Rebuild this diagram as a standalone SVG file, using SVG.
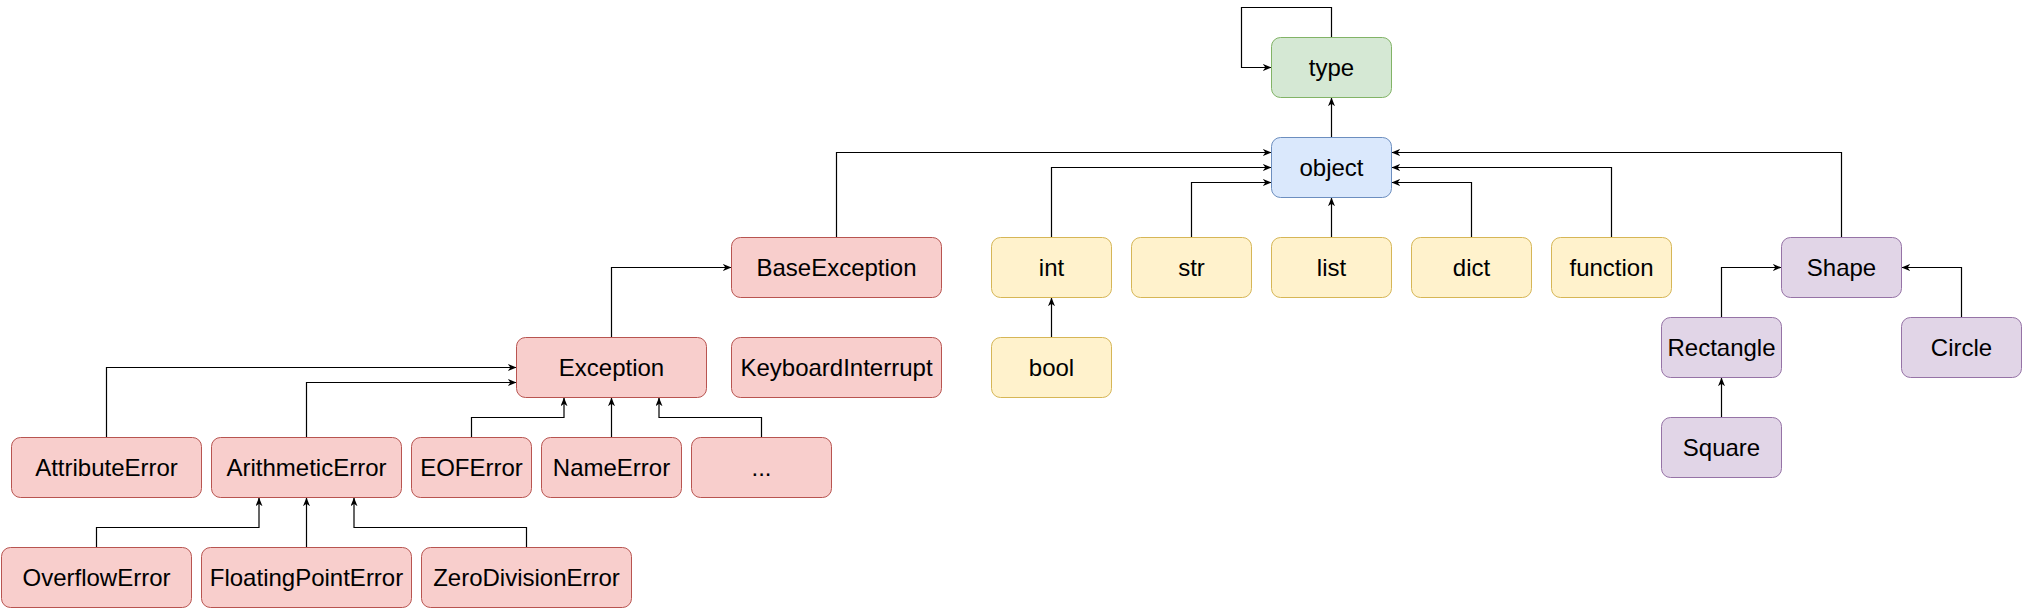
<svg xmlns="http://www.w3.org/2000/svg" width="2022" height="608" viewBox="0 0 2022 608">
<style>
.n rect{stroke-width:1}
.n text{font-family:"Liberation Sans",Arial,Helvetica,sans-serif;font-size:24px;fill:#000;text-anchor:middle}
.g rect{fill:#d5e8d4;stroke:#82b366}
.b rect{fill:#dae8fc;stroke:#6c8ebf}
.r rect{fill:#f8cecc;stroke:#b85450}
.y rect{fill:#fff2cc;stroke:#d6b656}
.p rect{fill:#e1d5e7;stroke:#9673a6}
#edges path{fill:none;stroke:#000;stroke-width:1.2;marker-end:url(#ar)}
</style>
<defs>
<marker id="ar" viewBox="0 0 10 8" refX="10" refY="4" markerWidth="9" markerHeight="7" markerUnits="userSpaceOnUse" orient="auto">
<path d="M0,0 L10,4 L0,8 L3,4 Z" fill="#000"/>
</marker>
</defs>
<rect width="2022" height="608" fill="#fff"/>
<g transform="translate(0.5,0.5)">
<g id="edges">
<path d="M1331,37 V7 H1241 V67 H1271"/>
<path d="M1331,137 V97"/>
<path d="M836,237 V152 H1271"/>
<path d="M1051,237 V167 H1271"/>
<path d="M1191,237 V182 H1271"/>
<path d="M1331,237 V197"/>
<path d="M1471,237 V182 H1391"/>
<path d="M1611,237 V167 H1391"/>
<path d="M1841,237 V152 H1391"/>
<path d="M1721,317 V267 H1781"/>
<path d="M1961,317 V267 H1901"/>
<path d="M1721,417 V377"/>
<path d="M1051,337 V297"/>
<path d="M611,337 V267 H731"/>
<path d="M106,437 V367 H516"/>
<path d="M306,437 V382 H516"/>
<path d="M471,437 V417 H563.5 V397"/>
<path d="M611,437 V397"/>
<path d="M761,437 V417 H658.5 V397"/>
<path d="M96,547 V527 H258.5 V497"/>
<path d="M306,547 V497"/>
<path d="M526,547 V527 H353.5 V497"/>
</g>
<g id="type" class="n g"><rect x="1271" y="37" width="120" height="60" rx="9"/><text x="1331" y="75">type</text></g>
<g id="object" class="n b"><rect x="1271" y="137" width="120" height="60" rx="9"/><text x="1331" y="175">object</text></g>
<g id="BaseException" class="n r"><rect x="731" y="237" width="210" height="60" rx="9"/><text x="836" y="275">BaseException</text></g>
<g id="KeyboardInterrupt" class="n r"><rect x="731" y="337" width="210" height="60" rx="9"/><text x="836" y="375">KeyboardInterrupt</text></g>
<g id="int" class="n y"><rect x="991" y="237" width="120" height="60" rx="9"/><text x="1051" y="275">int</text></g>
<g id="bool" class="n y"><rect x="991" y="337" width="120" height="60" rx="9"/><text x="1051" y="375">bool</text></g>
<g id="str" class="n y"><rect x="1131" y="237" width="120" height="60" rx="9"/><text x="1191" y="275">str</text></g>
<g id="list" class="n y"><rect x="1271" y="237" width="120" height="60" rx="9"/><text x="1331" y="275">list</text></g>
<g id="dict" class="n y"><rect x="1411" y="237" width="120" height="60" rx="9"/><text x="1471" y="275">dict</text></g>
<g id="function" class="n y"><rect x="1551" y="237" width="120" height="60" rx="9"/><text x="1611" y="275">function</text></g>
<g id="Shape" class="n p"><rect x="1781" y="237" width="120" height="60" rx="9"/><text x="1841" y="275">Shape</text></g>
<g id="Rectangle" class="n p"><rect x="1661" y="317" width="120" height="60" rx="9"/><text x="1721" y="355">Rectangle</text></g>
<g id="Circle" class="n p"><rect x="1901" y="317" width="120" height="60" rx="9"/><text x="1961" y="355">Circle</text></g>
<g id="Square" class="n p"><rect x="1661" y="417" width="120" height="60" rx="9"/><text x="1721" y="455">Square</text></g>
<g id="Exception" class="n r"><rect x="516" y="337" width="190" height="60" rx="9"/><text x="611" y="375">Exception</text></g>
<g id="AttributeError" class="n r"><rect x="11" y="437" width="190" height="60" rx="9"/><text x="106" y="475">AttributeError</text></g>
<g id="ArithmeticError" class="n r"><rect x="211" y="437" width="190" height="60" rx="9"/><text x="306" y="475">ArithmeticError</text></g>
<g id="EOFError" class="n r"><rect x="411" y="437" width="120" height="60" rx="9"/><text x="471" y="475">EOFError</text></g>
<g id="NameError" class="n r"><rect x="541" y="437" width="140" height="60" rx="9"/><text x="611" y="475">NameError</text></g>
<g id="more" class="n r"><rect x="691" y="437" width="140" height="60" rx="9"/><text x="761" y="475">...</text></g>
<g id="OverflowError" class="n r"><rect x="1" y="547" width="190" height="60" rx="9"/><text x="96" y="585">OverflowError</text></g>
<g id="FloatingPointError" class="n r"><rect x="201" y="547" width="210" height="60" rx="9"/><text x="306" y="585">FloatingPointError</text></g>
<g id="ZeroDivisionError" class="n r"><rect x="421" y="547" width="210" height="60" rx="9"/><text x="526" y="585">ZeroDivisionError</text></g>
</g>
</svg>
